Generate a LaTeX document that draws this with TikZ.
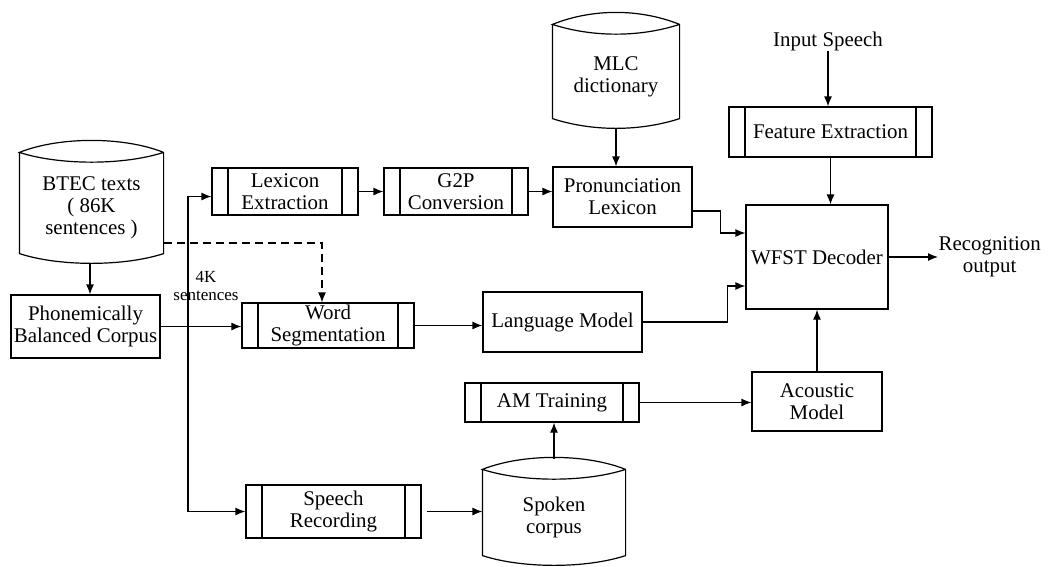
\documentclass[tikz,border=0pt]{standalone}
\usepackage{fontspec}
\setmainfont{Liberation Serif}
\usetikzlibrary{arrows.meta}
\usetikzlibrary{calc}

\begin{document}
\begin{tikzpicture}[x=1pt,y=-1pt,
	line width=1.2pt,
	every node/.style={font=\fontsize{20.9}{22}\selectfont, align=center, inner sep=0pt},
	box/.style={draw, minimum width=#1},
	procbox/.style={box=#1, path picture={
		\draw ([xshift=16pt]path picture bounding box.north west) -- ([xshift=16pt]path picture bounding box.south west);
		\draw ([xshift=-16pt]path picture bounding box.north east) -- ([xshift=-16pt]path picture bounding box.south east);}},
	dbnode/.style={minimum width=#1},
	arr/.style={-{Latex[length=10pt,width=8pt]}}]
	\useasboundingbox (0,0) rectangle (1048,566);

	\node[dbnode=143, minimum height=90] (btec) at (91.5,208) {BTEC texts\\( 86K\\sentences )};
	\node[dbnode=126, minimum height=83] (mlc) at (616,76.5) {MLC\\dictionary};
	\node[dbnode=142, minimum height=75] (spoken) at (554,517.5) {Spoken\\corpus};
	\foreach \n in {btec,mlc,spoken}
		\draw ([yshift=10pt]\n.north west) coordinate (\n-a) -- (\n.south west)
			.. controls +(40,13) and +(-40,13) .. (\n.south east)
			-- ([yshift=10pt]\n.north east) coordinate (\n-b)
			.. controls +(-40,-16) and +(40,-16) .. (\n-a)
			.. controls +(40,13) and +(-40,13) .. (\n-b);

	\node[box=149, minimum height=63] (phon) at (85.5,326.5) {Phonemically\\Balanced Corpus};
	\node[procbox=146, minimum height=47] (lexext) at (285,191.5) {Lexicon\\Extraction};
	\node[procbox=144, minimum height=47] (g2p) at (456,191.5) {G2P\\Conversion};
	\node[box=139, minimum height=60] (pron) at (622.5,197) {Pronunciation\\Lexicon};
	\node[procbox=203, minimum height=50] (feat) at (830.5,132) {Feature Extraction};
	\node (input) at (828,41) {Input Speech};
	\node[box=142, minimum height=104] (wfst) at (817,257) {WFST Decoder};
	\node[anchor=west] (recog) at (938,257) {Recognition\\output};
	\node[procbox=172, minimum height=45] (wordseg) at (328,325.5) {Word\\Segmentation};
	\node[box=159, minimum height=60] (lm) at (562.5,322) {Language Model};
	\node[procbox=174, minimum height=39] (amtrain) at (552,402.5) {AM Training};
	\node[procbox=175, minimum height=53] (speechrec) at (333.5,511.5) {Speech\\Recording};
	\node[box=130, minimum height=59] (acoustic) at (817,401.5) {Acoustic\\Model};

	\coordinate (j) at (188,326.5);
	\node[font=\fontsize{17}{18}\selectfont] (fourk) at (206,286) {4K\\sentences};

	\draw[arr] ([xshift=-1.5pt,yshift=-10pt]btec.south) -- ([xshift=-1.5pt]btec.south |- phon.north);
	\draw[arr] (phon.east) -- (phon.east -| wordseg.west);
	\draw[arr] (j) |- ([yshift=-5pt]lexext.west);
	\draw[arr] (j) |- (speechrec.west);
	\draw[arr, dash pattern=on 8pt off 5pt] ([yshift=-35pt]btec.east) -| ([xshift=-6pt]wordseg.north);
	\draw[arr] (lexext) -- (g2p);
	\draw[arr] (g2p.east) -- (g2p.east -| pron.west);
	\draw[arr] ([yshift=-9pt]mlc.south) -- (mlc.south |- pron.north);
	\draw[arr] ([yshift=-14pt]pron.east) -- ++(28,0) |- ([yshift=24pt]wfst.west);
	\draw[arr] (lm.east) -- ++(85,0) |- ([yshift=-29pt]wfst.west);
	\draw[arr] (input.south) -- (input.south |- feat.north);
	\draw[arr] (feat.south) -- (feat.south |- wfst.north);
	\draw[arr] (wfst.east) -- (recog.west);
	\draw[arr] (acoustic.north) -- (wfst.south);
	\draw[arr] (amtrain.east) -- (amtrain.east -| acoustic.west);
	\draw[arr] ([yshift=20pt]spoken.north) -- (spoken.north |- amtrain.south);
	\draw[arr] ([xshift=5pt]speechrec.east) -- (speechrec.east -| spoken.west);
	\draw[arr] (wordseg.east) -- (wordseg.east -| lm.west);
\end{tikzpicture}
\end{document}
